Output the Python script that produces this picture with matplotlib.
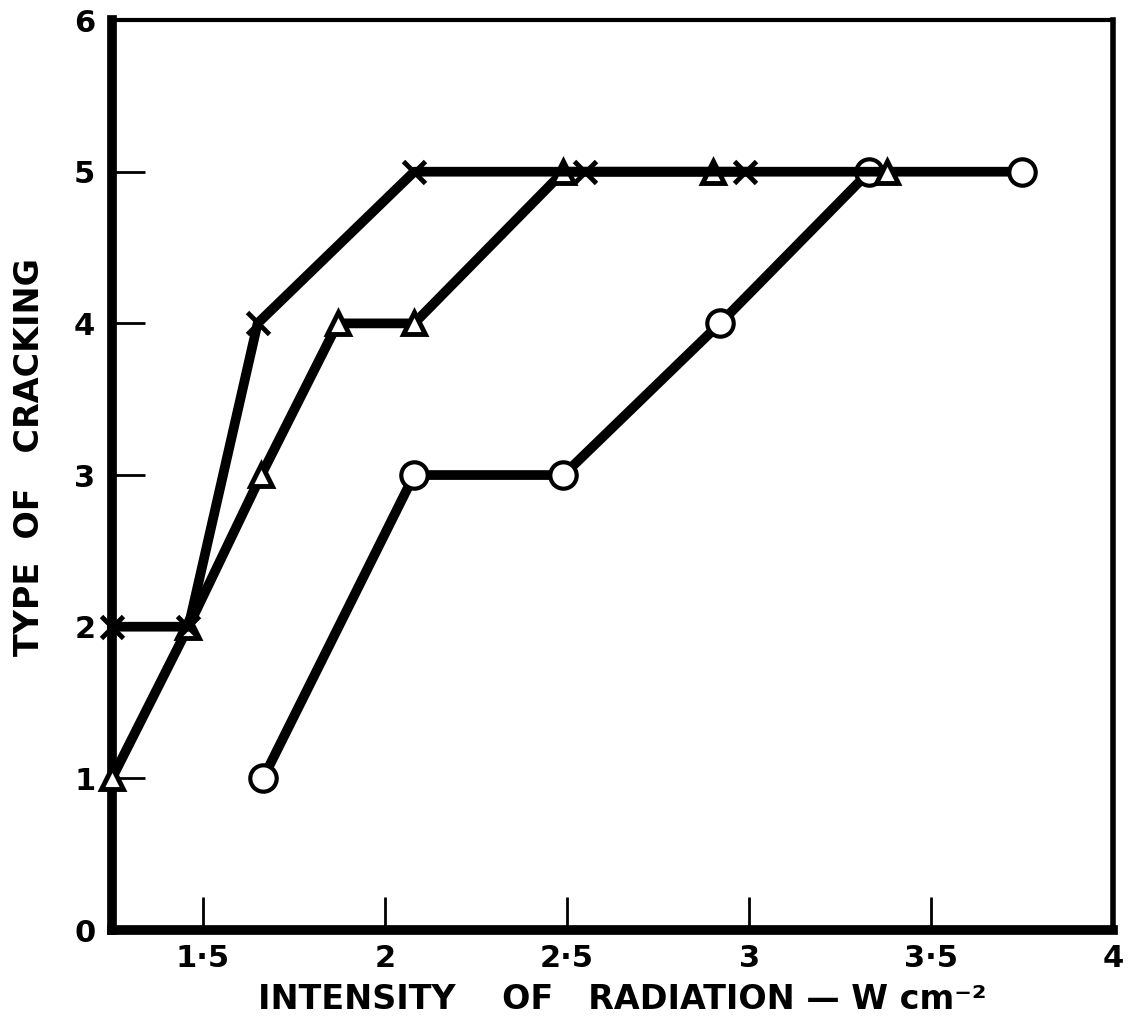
import matplotlib.pyplot as plt

plt.rcParams["font.family"] = ["DejaVu Sans"]
plt.rcParams["font.weight"] = "bold"

# intensity of radiation (W cm^-2) and type of cracking
cross_x = [1.25, 1.46, 1.65, 2.08, 2.55, 2.99]
cross_y = [2, 2, 4, 5, 5, 5]

triangle_x = [1.25, 1.46, 1.66, 1.87, 2.08, 2.49, 2.90, 3.38]
triangle_y = [1, 2, 3, 4, 4, 5, 5, 5]

circle_x = [1.665, 2.08, 2.49, 2.92, 3.33, 3.75]
circle_y = [1, 3, 3, 4, 5, 5]

x_ticks = [1.5, 2, 2.5, 3, 3.5, 4]
x_tick_labels = ["1·5", "2", "2·5", "3", "3·5", "4"]
y_ticks = [0, 1, 2, 3, 4, 5, 6]

fig = plt.figure(figsize=(11.29, 10.28), dpi=100)
ax = fig.add_axes([0.0992, 0.0953, 0.8868, 0.8852])

line_kw = dict(color="black", linewidth=7, clip_on=False, zorder=3)

ax.plot(circle_x, circle_y, marker="o", markersize=19, markerfacecolor="white",
        markeredgecolor="black", markeredgewidth=3, **line_kw)
ax.plot(triangle_x, triangle_y, marker="^", markersize=16, markerfacecolor="white",
        markeredgecolor="black", markeredgewidth=3.5, **line_kw)
ax.plot(cross_x, cross_y, marker="x", markersize=16, markeredgecolor="black",
        markeredgewidth=3.5, **line_kw)

ax.set_xlim(1.25, 4)
ax.set_ylim(0, 6)
ax.set_xticks(x_ticks)
ax.set_xticklabels(x_tick_labels)
ax.set_yticks(y_ticks)

ax.tick_params(direction="in", length=24, width=2, labelsize=22, pad=10)
ax.tick_params(axis="y", pad=12)
for lbl in ax.get_xticklabels() + ax.get_yticklabels():
    lbl.set_fontweight("bold")

ax.spines["left"].set_linewidth(7)
ax.spines["bottom"].set_linewidth(7)
ax.spines["top"].set_linewidth(3)
ax.spines["right"].set_linewidth(4)

ax.set_xlabel("INTENSITY    OF   RADIATION — W cm⁻²", fontsize=24,
              fontweight="bold")
ax.set_ylabel("TYPE  OF   CRACKING", fontsize=24, fontweight="bold")
ax.xaxis.set_label_coords(0.51, -0.058)
ax.yaxis.set_label_coords(-0.066, 0.52)

fig.savefig("out.png", dpi=100)
plt.close(fig)
